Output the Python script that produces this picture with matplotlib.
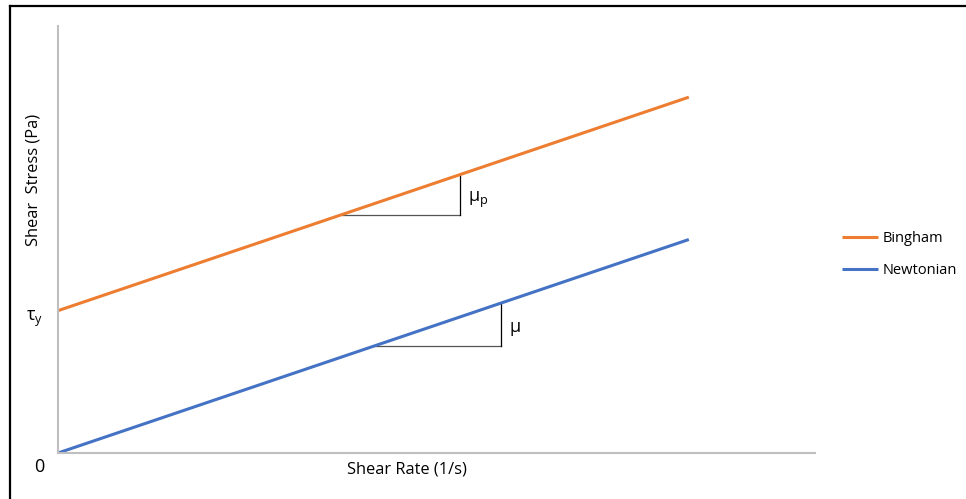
import numpy as np
import matplotlib.pyplot as plt
from matplotlib.lines import Line2D

plt.rcParams['font.family'] = ['Open Sans', 'DejaVu Sans']
plt.rcParams['mathtext.fontset'] = 'custom'
plt.rcParams['mathtext.rm'] = 'Open Sans'

# data
shear_rate = [0, 10]
newtonian = [0, 3]
bingham = [2, 5]
tau_y = 2

# slope triangles: (x start, x end)
bingham_tri = [4.5, 6.37]
newton_tri = [5.0, 7.02]

orange = '#ED7D31'
blue = '#4472C4'
grey = '#BFBFBF'

fig = plt.figure(figsize=(9.66, 4.99), dpi=100)
ax = fig.add_axes([58 / 966, 46 / 499, (815 - 58) / 966, (453 - 26) / 499])

ax.plot(shear_rate, bingham, color=orange, linewidth=2.2, label='Bingham', solid_capstyle='butt')
ax.plot(shear_rate, newtonian, color=blue, linewidth=2.2, label='Newtonian', solid_capstyle='butt')

ax.set_xlim(0, 12)
ax.set_ylim(0, 6)
ax.set_xticks([])
ax.set_yticks([])
for s in ['top', 'right']:
    ax.spines[s].set_visible(False)
for s in ['left', 'bottom']:
    ax.spines[s].set_color(grey)
    ax.spines[s].set_linewidth(1.5)

# slope triangles
def slope_of(xs, ys):
    return (ys[1] - ys[0]) / (xs[1] - xs[0])

for tri, ys in [(bingham_tri, bingham), (newton_tri, newtonian)]:
    m = slope_of(shear_rate, ys)
    y1 = ys[0] + m * tri[0]
    y2 = ys[0] + m * tri[1]
    ax.plot([tri[0], tri[1]], [y1, y1], color='#555555', linewidth=0.9, zorder=1)
    ax.plot([tri[1], tri[1]], [y1, y2], color='black', linewidth=0.9, zorder=1)

ax.text(6.5, 3.55, r'$\mathregular{\mu_p}$', fontsize=13, va='center', ha='left')
ax.text(7.15, 1.74, r'$\mathregular{\mu}$', fontsize=13, va='center', ha='left')

ax.text(-0.50, tau_y - 0.12, r'$\mathregular{\tau_y}$', fontsize=13, va='center', ha='left', clip_on=False)
ax.text(-0.38, -0.19, '0', fontsize=13, va='center', ha='left', clip_on=False)

fig.text(34 / 966, 1 - 180 / 499, 'Shear  Stress (Pa)', rotation=90, fontsize=11.8,
         ha='center', va='center')
fig.text(407 / 966, 1 - 469 / 499, 'Shear Rate (1/s)', fontsize=11.8,
         ha='center', va='center')

fig.legend(loc='upper left', bbox_to_anchor=(842 / 966, 1 - 231 / 499), frameon=False,
           fontsize=10.5, handlelength=2.5, handletextpad=0.3, labelspacing=1.2,
           borderpad=0, borderaxespad=0)

# outer border (left and top visible)
fig.add_artist(Line2D([9.5 / 966, 9.5 / 966], [0, 1 - 5.5 / 499], color='black', linewidth=1.6,
                      transform=fig.transFigure))
fig.add_artist(Line2D([9.5 / 966, 1], [1 - 5.5 / 499, 1 - 5.5 / 499], color='black', linewidth=1.6,
                      transform=fig.transFigure))

fig.savefig('out.png', dpi=100)
